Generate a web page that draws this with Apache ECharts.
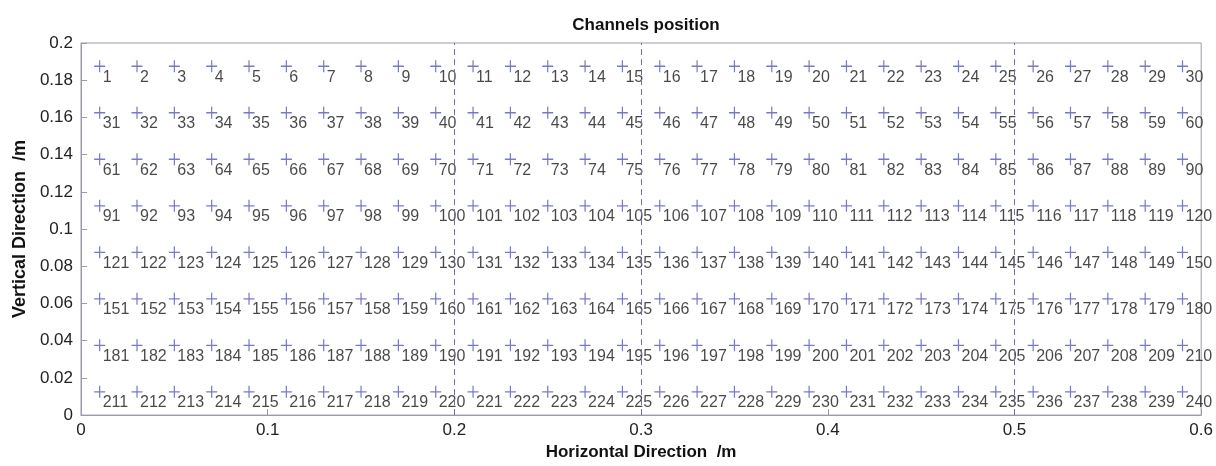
<!DOCTYPE html>
<html lang="en">
<head>
<meta charset="utf-8">
<title>Channels position</title>
<script src="https://cdn.jsdelivr.net/npm/echarts@6/dist/echarts.min.js"></script>
<style>
  html, body { margin: 0; padding: 0; background: #fff; }
  #main { width: 1216px; height: 466px; }
</style>
</head>
<body>
<div id="main"></div>
<script type="text/javascript">
// channel centres (m)
var colX = [0.01, 0.03, 0.05, 0.07, 0.09, 0.11, 0.13, 0.15, 0.17, 0.19,
            0.21, 0.23, 0.25, 0.27, 0.29, 0.31, 0.33, 0.35, 0.37, 0.39,
            0.41, 0.43, 0.45, 0.47, 0.49, 0.51, 0.53, 0.55, 0.57, 0.59];
var rowY = [0.1875, 0.1625, 0.1375, 0.1125, 0.0875, 0.0625, 0.0375, 0.0125];
// dashed separators
var dividerX = [0.2, 0.3, 0.5];
var xTicks = [0, 0.1, 0.2, 0.3, 0.4, 0.5, 0.6];
var yTicks = [0, 0.02, 0.04, 0.06, 0.08, 0.1, 0.12, 0.14, 0.16, 0.18, 0.2];

var FONT = "'Liberation Sans', Arial, sans-serif";

// channel number runs left to right, top row first
var points = [];
for (var r = 0; r < rowY.length; r++) {
    for (var c = 0; c < colX.length; c++) {
        points.push({ value: [colX[c], rowY[r]], ch: r * colX.length + c + 1 });
    }
}

function tickText(v) {
    return String(parseFloat(v.toFixed(2)));
}

var myChart = echarts.init(document.getElementById('main'));

var option = {
    backgroundColor: '#fff',
    animation: false,
    title: {
        text: 'Channels position',
        left: 641,
        top: 12,
        textAlign: 'center',
        textStyle: { fontFamily: FONT, fontSize: 17, fontWeight: 'bold', color: '#111' }
    },
    grid: {
        left: 81, right: 14, top: 43, bottom: 46,
        show: true, borderColor: '#9a9aa8', borderWidth: 1, backgroundColor: 'transparent'
    },
    xAxis: {
        type: 'value',
        min: xTicks[0], max: xTicks[xTicks.length - 1], interval: 0.1,
        name: 'Horizontal Direction  /m',
        nameLocation: 'middle',
        nameGap: 26,
        nameTextStyle: { fontFamily: FONT, fontSize: 17, fontWeight: 'bold', color: '#111' },
        axisLine: { lineStyle: { color: '#9a9aa8' } },
        axisTick: { inside: true, length: 6, lineStyle: { color: '#9a9aa8' } },
        splitLine: { show: false },
        axisLabel: { margin: 7, fontFamily: FONT, fontSize: 17, color: '#222', formatter: tickText }
    },
    yAxis: {
        type: 'value',
        min: yTicks[0], max: yTicks[yTicks.length - 1], interval: 0.02,
        name: 'Vertical Direction  /m',
        nameLocation: 'middle',
        nameGap: 50,
        nameTextStyle: { fontFamily: FONT, fontSize: 18, fontWeight: 'bold', color: '#111' },
        axisLine: { show: true, lineStyle: { color: '#9a9aa8' } },
        axisTick: { show: true, inside: true, length: 6, lineStyle: { color: '#9a9aa8' } },
        splitLine: { show: false },
        axisLabel: { margin: 8, fontFamily: FONT, fontSize: 17, color: '#222', formatter: tickText }
    },
    series: [{
        type: 'scatter',
        data: points,
        symbol: 'path://M4.45,0h1.1v10h-1.1z M0,4.45h10v1.1h-10z',
        symbolSize: [11, 12],
        itemStyle: { color: '#5656bc' },
        label: {
            show: true,
            position: [8.5, 17],
            align: 'left',
            verticalAlign: 'middle',
            fontFamily: FONT,
            fontSize: 16,
            color: '#1a1a1a',
            formatter: function (p) { return String(p.data.ch); }
        },
        labelLayout: { hideOverlap: false },
        markLine: {
            silent: true,
            symbol: ['none', 'none'],
            label: { show: false },
            lineStyle: { color: '#7070a8', type: [6, 4], width: 1 },
            data: dividerX.map(function (x) { return { xAxis: x }; })
        }
    }]
};

myChart.setOption(option);
</script>
</body>
</html>
